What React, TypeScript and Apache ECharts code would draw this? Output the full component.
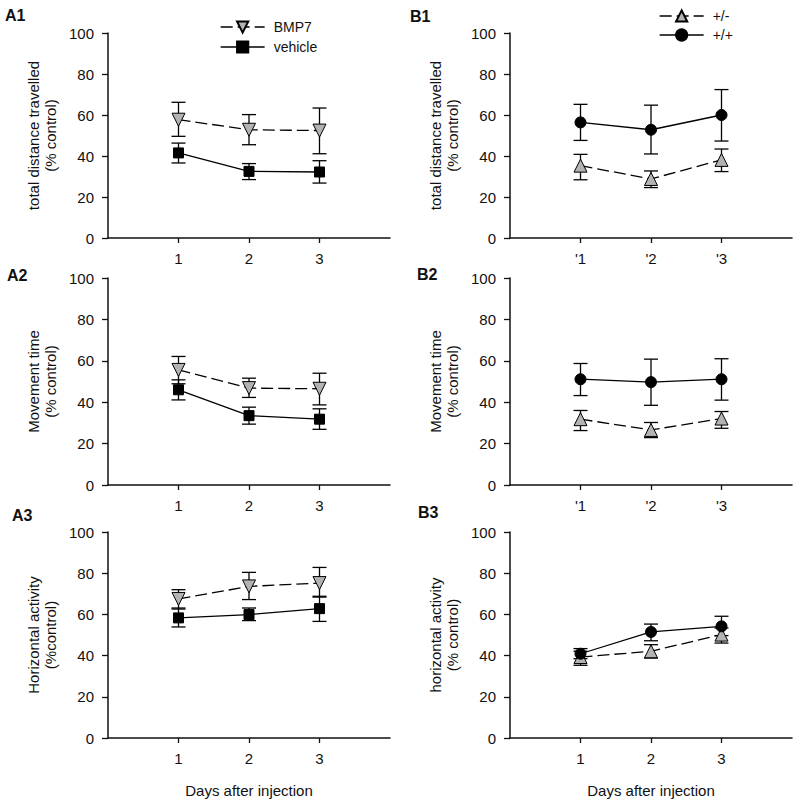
import React, { useEffect, useRef } from 'react';
import * as echarts from 'echarts';

// ---------- data ----------
const days = [1, 2, 3];
const tickLabelsPlain = ['1', '2', '3'];
const tickLabelsPrimed = ["'1", "'2", "'3"];

// A1 total distance travelled
const a1Bmp7Mean = [57.7, 52.8, 52.4];
const a1Bmp7Low = [49.6, 45.5, 41.1];
const a1Bmp7High = [66.2, 60.2, 63.4];
const a1VehMean = [41.5, 32.5, 32.2];
const a1VehLow = [36.6, 28.5, 26.8];
const a1VehHigh = [46.3, 36.3, 37.7];

// A2 movement time
const a2Bmp7Mean = [55.6, 46.8, 46.5];
const a2Bmp7Low = [48.9, 42.3, 38.7];
const a2Bmp7High = [62.1, 51.6, 54.0];
const a2VehMean = [46.0, 33.5, 31.8];
const a2VehLow = [41.1, 29.4, 26.9];
const a2VehHigh = [50.8, 37.6, 36.8];

// A3 horizontal activity
const a3Bmp7Mean = [67.5, 73.6, 75.2];
const a3Bmp7Low = [62.6, 67.2, 68.4];
const a3Bmp7High = [72.0, 80.4, 82.8];
const a3VehMean = [58.3, 59.9, 62.8];
const a3VehLow = [53.9, 57.0, 56.6];
const a3VehHigh = [63.1, 63.1, 68.8];

// B1 total distance travelled
const b1HetMean = [35.3, 28.8, 38.1];
const b1HetLow = [28.4, 24.6, 32.4];
const b1HetHigh = [40.8, 32.7, 43.4];
const b1WtMean = [56.4, 52.8, 60.0];
const b1WtLow = [47.6, 41.0, 47.3];
const b1WtHigh = [65.2, 64.8, 72.4];

// B2 movement time
const b2HetMean = [31.8, 26.6, 32.1];
const b2HetLow = [26.3, 22.9, 27.4];
const b2HetHigh = [36.0, 30.2, 35.5];
const b2WtMean = [51.1, 49.7, 51.1];
const b2WtLow = [43.2, 38.5, 41.0];
const b2WtHigh = [58.7, 60.8, 61.0];

// B3 horizontal activity
const b3HetMean = [39.3, 42.1, 50.2];
const b3HetLow = [35.3, 38.8, 46.1];
const b3HetHigh = [42.1, 45.3, 53.4];
const b3WtMean = [40.9, 51.5, 54.2];
const b3WtLow = [38.5, 47.2, 49.7];
const b3WtHigh = [43.4, 55.3, 59.1];

// ---------- layout ----------
const FONT = '"Liberation Sans", Arial, Helvetica, sans-serif';
const GRAY = '#b3b3b3';

type Group = {
  name: string;
  mean: number[];
  low: number[];
  high: number[];
};

type Panel = {
  label: string;
  labelX: number;
  labelY: number;
  left: number;
  top: number;
  height: number;
  yName: string;
  ticks: string[];
  xName: string;
  dashed: Group;
  solid: Group;
  kind: 'A' | 'B';
};

const panels: Panel[] = [
  {
    label: 'A1', labelX: 5, labelY: 15, left: 108, top: 33, height: 205,
    yName: 'total distance travelled\n(% control)', ticks: tickLabelsPlain, xName: '', kind: 'A',
    dashed: { name: 'BMP7', mean: a1Bmp7Mean, low: a1Bmp7Low, high: a1Bmp7High },
    solid: { name: 'vehicle', mean: a1VehMean, low: a1VehLow, high: a1VehHigh },
  },
  {
    label: 'A2', labelX: 7, labelY: 275, left: 108, top: 278, height: 207,
    yName: 'Movement time\n(% control)', ticks: tickLabelsPlain, xName: '', kind: 'A',
    dashed: { name: 'BMP7', mean: a2Bmp7Mean, low: a2Bmp7Low, high: a2Bmp7High },
    solid: { name: 'vehicle', mean: a2VehMean, low: a2VehLow, high: a2VehHigh },
  },
  {
    label: 'A3', labelX: 12, labelY: 515, left: 108, top: 532, height: 206,
    yName: 'Horizontal activity\n(%control)', ticks: tickLabelsPlain, xName: 'Days after injection', kind: 'A',
    dashed: { name: 'BMP7', mean: a3Bmp7Mean, low: a3Bmp7Low, high: a3Bmp7High },
    solid: { name: 'vehicle', mean: a3VehMean, low: a3VehLow, high: a3VehHigh },
  },
  {
    label: 'B1', labelX: 410, labelY: 16, left: 510, top: 33, height: 205,
    yName: 'total distance travelled\n(% control)', ticks: tickLabelsPrimed, xName: '', kind: 'B',
    dashed: { name: '+/-', mean: b1HetMean, low: b1HetLow, high: b1HetHigh },
    solid: { name: '+/+', mean: b1WtMean, low: b1WtLow, high: b1WtHigh },
  },
  {
    label: 'B2', labelX: 417, labelY: 274, left: 510, top: 278, height: 207,
    yName: 'Movement time\n(% control)', ticks: tickLabelsPrimed, xName: '', kind: 'B',
    dashed: { name: '+/-', mean: b2HetMean, low: b2HetLow, high: b2HetHigh },
    solid: { name: '+/+', mean: b2WtMean, low: b2WtLow, high: b2WtHigh },
  },
  {
    label: 'B3', labelX: 418, labelY: 512, left: 510, top: 532, height: 206,
    yName: 'horizontal activity\n(% control)', ticks: tickLabelsPlain, xName: 'Days after injection', kind: 'B',
    dashed: { name: '+/-', mean: b3HetMean, low: b3HetLow, high: b3HetHigh },
    solid: { name: '+/+', mean: b3WtMean, low: b3WtLow, high: b3WtHigh },
  },
];

function errorRender(params: any, api: any) {
  const x = api.value(0);
  const lo = api.coord([x, api.value(1)]);
  const hi = api.coord([x, api.value(2)]);
  const hw = 7;
  const style = { stroke: '#000', lineWidth: 1.3 };
  return {
    type: 'group',
    children: [
      { type: 'line', shape: { x1: lo[0], y1: lo[1], x2: hi[0], y2: hi[1] }, style },
      { type: 'line', shape: { x1: hi[0] - hw, y1: hi[1], x2: hi[0] + hw, y2: hi[1] }, style },
      { type: 'line', shape: { x1: lo[0] - hw, y1: lo[1], x2: lo[0] + hw, y2: lo[1] }, style },
    ],
  };
}

function buildOption() {
  const grid: any[] = [];
  const xAxis: any[] = [];
  const yAxis: any[] = [];
  const series: any[] = [];

  panels.forEach((p, i) => {
    grid.push({ left: p.left, top: p.top, width: 282, height: p.height, outerBoundsMode: 'none' });
    xAxis.push({
      type: 'value',
      gridIndex: i,
      min: 0,
      max: 4,
      interval: 1,
      name: p.xName,
      nameLocation: 'middle',
      nameGap: 45,
      nameTextStyle: { fontFamily: FONT, fontSize: 15, color: '#111' },
      axisLine: { show: true, onZero: false, lineStyle: { color: '#111', width: 1.5 } },
      axisTick: { show: true, length: 5, customValues: days, lineStyle: { color: '#111', width: 1.3 } },
      axisLabel: {
        show: true,
        margin: 13,
        customValues: days,
        fontFamily: FONT,
        fontSize: 15,
        color: '#111',
        formatter: (v: number) => {
          const idx = days.indexOf(v);
          return idx >= 0 ? p.ticks[idx] : '';
        },
      },
      splitLine: { show: false },
    });
    yAxis.push({
      type: 'value',
      gridIndex: i,
      min: 0,
      max: 100,
      interval: 20,
      name: p.yName,
      nameLocation: 'middle',
      nameGap: 49,
      nameTextStyle: { fontFamily: FONT, fontSize: 15, color: '#111', lineHeight: 17 },
      axisLine: { show: true, lineStyle: { color: '#111', width: 1.5 } },
      axisTick: { show: true, length: 6, lineStyle: { color: '#111', width: 1.3 } },
      axisLabel: { margin: 14, fontFamily: FONT, fontSize: 15, color: '#111' },
      splitLine: { show: false },
    });

    const isA = p.kind === 'A';
    const groups: [Group, boolean][] = [
      [p.dashed, true],
      [p.solid, false],
    ];
    groups.forEach(([g]) => {
      series.push({
        type: 'custom',
        xAxisIndex: i,
        yAxisIndex: i,
        silent: true,
        z: 1,
        renderItem: errorRender,
        encode: { x: 0, y: [1, 2] },
        data: days.map((d, k) => [d, g.low[k], g.high[k]]),
      });
    });
    groups.forEach(([g, dashed]) => {
      let symbol = 'circle';
      let symbolSize = 11;
      let symbolRotate = 0;
      let fill = '#000';
      if (dashed) {
        symbol = 'triangle';
        symbolSize = 13;
        symbolRotate = isA ? 180 : 0;
        fill = GRAY;
      } else if (isA) {
        symbol = 'rect';
        symbolSize = 10;
      }
      series.push({
        type: 'line',
        name: g.name,
        xAxisIndex: i,
        yAxisIndex: i,
        z: 3,
        symbol,
        symbolSize,
        symbolRotate,
        showAllSymbol: true,
        data: days.map((d, k) => [d, g.mean[k]]),
        itemStyle: { color: fill, borderColor: '#000', borderWidth: 1, opacity: 1 },
        lineStyle: { color: '#000', width: 1.3, type: dashed ? [12, 5] : 'solid' },
      });
    });
  });

  const legendCommon = {
    orient: 'vertical',
    itemWidth: 44,
    itemHeight: 14,
    itemGap: 6,
    selectedMode: false,
    lineStyle: { width: 1.3 },
    textStyle: { fontFamily: FONT, fontSize: 14, color: '#111', padding: [0, 0, 0, 4] },
  };

  return {
    animation: false,
    backgroundColor: '#fff',
    grid,
    xAxis,
    yAxis,
    series,
    legend: [
      { ...legendCommon, data: ['BMP7', 'vehicle'], left: 215, top: 15 },
      { ...legendCommon, itemGap: 5, data: ['+/-', '+/+'], left: 654, top: 4 },
    ],
    graphic: panels.map((p) => ({
      type: 'text',
      x: p.labelX,
      y: p.labelY,
      style: {
        text: p.label,
        font: `bold 16px ${FONT}`,
        fill: '#111',
        verticalAlign: 'middle',
      },
    })),
  };
}

export default function App() {
  const ref = useRef<HTMLDivElement>(null);
  useEffect(() => {
    if (!ref.current) return;
    const chart = echarts.init(ref.current, undefined, { renderer: 'svg' });
    chart.setOption(buildOption() as any);
    return () => chart.dispose();
  }, []);
  return (
    <div
      ref={ref}
      style={{ position: 'fixed', left: 0, top: 0, width: 800, height: 803, background: '#fff' }}
    />
  );
}
